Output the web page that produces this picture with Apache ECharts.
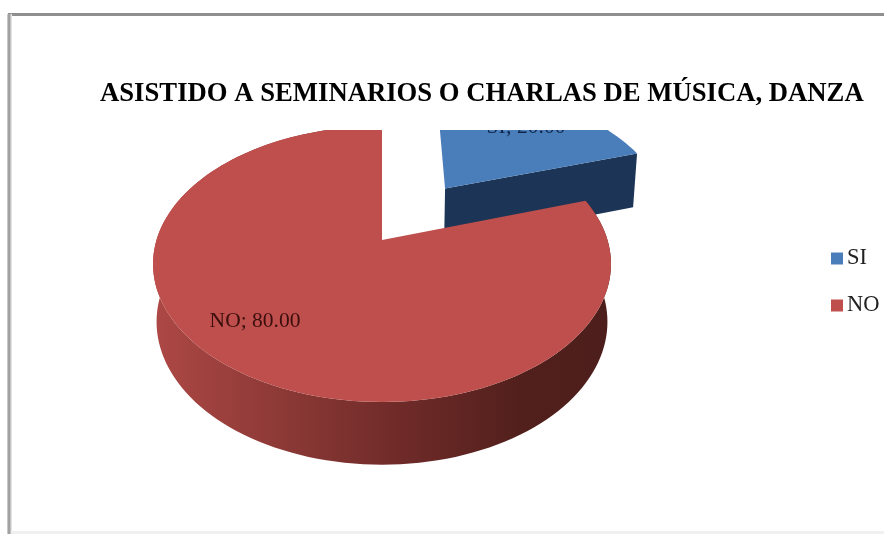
<!DOCTYPE html>
<html>
<head>
<meta charset="utf-8">
<script src="https://cdn.jsdelivr.net/npm/echarts@6/dist/echarts.min.js"></script>
<style>html,body{margin:0;padding:0;background:#fff}#c{width:884px;height:534px}</style>
</head>
<body>
<div id="c"></div>
<script>
var titleText = 'ASISTIDO A SEMINARIOS O CHARLAS DE MÚSICA, DANZA';
var categories = ['SI', 'NO'];
var values = [20, 80];
var FONT = '"Liberation Serif","Times New Roman",serif';

// Projection of the pie plane (perspective view of a tilted disc)
var P = 0.174, TOP = {x0: 382, y0: 240, a: 133.8, b: 225.5}, BOT = {x0: 382, y0: 297, a: 138.5, b: 222};
var EXPLODE = 0.51;
function project(pl, u, v) {
  var w = 1 + P * v;
  return [pl.x0 + pl.b * u / w, pl.y0 - pl.a * v / w];
}
function ringPoints(pl, ou, ov, r, from, to) {
  var pts = [], n = Math.max(2, Math.round((to - from) / 2));
  for (var i = 0; i <= n; i++) {
    var t = (from + (to - from) * i / n) * Math.PI / 180;
    pts.push(project(pl, ou + r * Math.sin(t), ov + r * Math.cos(t)));
  }
  return pts;
}
var total = values.reduce(function (a, b) { return a + b; }, 0);
var styles = {
  SI: {
    top: '#4a7ebb',
    side: '#1c3557',
    label: '#0f2448',
    labelPos: [526, 127],
    explode: EXPLODE,
    radius: 1.025
  },
  NO: {
    top: '#be4f4c',
    side: new echarts.graphic.LinearGradient(153, 0, 611, 0, [
      {offset: 0, color: '#ad4845'},
      {offset: 0.3, color: '#8a3835'},
      {offset: 0.55, color: '#6e2a28'},
      {offset: 0.8, color: '#52201c'},
      {offset: 1, color: '#4c1e1b'}
    ], true),
    label: '#3a0f0e',
    labelPos: [255, 321],
    explode: 0,
    radius: 1
  }
};
function sliceRender(idx) {
  return function (params, api) {
    var name = categories[idx], st = styles[name];
    var start = 0;
    for (var i = 0; i < idx; i++) start += values[i] / total * 360;
    var end = start + values[idx] / total * 360;
    var mid = (start + end) / 2 * Math.PI / 180;
    var ou = st.explode * Math.sin(mid), ov = st.explode * Math.cos(mid);
    var topArc = ringPoints(TOP, ou, ov, st.radius, start, end);
    var botArc = ringPoints(BOT, ou, ov, st.radius, start, end);
    var apexT = project(TOP, ou, ov), apexB = project(BOT, ou, ov);
    var children = [];
    if (name === 'SI') {
      // front cut face of the exploded slice
      children.push({type: 'polygon',
        shape: {points: [apexT, topArc[topArc.length - 1], botArc[botArc.length - 1], apexB]},
        style: {fill: st.side}});
    } else {
      // outer wall
      children.push({type: 'polygon', shape: {points: topArc.concat(botArc.slice().reverse())},
        style: {fill: st.side}});
    }
    // top face
    children.push({type: 'polygon', shape: {points: [apexT].concat(topArc)},
      style: {fill: st.top}});
    // data label
    children.push({type: 'text', x: st.labelPos[0], y: st.labelPos[1],
      style: {text: name + '; ' + api.value(0).toFixed(2), font: '21.5px ' + FONT,
        fill: st.label, align: 'center', verticalAlign: 'middle'}});
    return {type: 'group', children: children};
  };
}
var chart = echarts.init(document.getElementById('c'), null, {renderer: 'canvas'});
chart.setOption({
  animation: false,
  backgroundColor: '#ffffff',
  title: {
    text: titleText, left: 100, top: 81, z: 20, padding: 0,
    textStyle: {fontFamily: FONT, fontWeight: 'bold', fontSize: 26.7, color: '#000'}
  },
  legend: {
    orient: 'vertical', left: 831, top: 247, itemWidth: 12, itemHeight: 12, itemGap: 24,
    icon: 'rect', data: categories, selectedMode: false, z: 20,
    padding: 0,
    textStyle: {fontFamily: FONT, fontSize: 22.5, color: '#222', padding: [0, 0, 0, -1], lineHeight: 23}
  },
  series: categories.map(function (name, i) {
    return {
      type: 'custom', name: name, coordinateSystem: 'none', z: i + 2,
      itemStyle: {color: styles[name].top},
      silent: true, clip: false,
      data: [[values[i]]],
      renderItem: sliceRender(i)
    };
  }),
  graphic: [
    {type: 'rect', z: 10, shape: {x: 11, y: 17, width: 873, height: 113}, style: {fill: '#fff'}, silent: true},
    {type: 'rect', z: 11, shape: {x: 8, y: 13, width: 876, height: 3}, style: {fill: '#8f8f8f'}, silent: true},
    {type: 'rect', z: 11, shape: {x: 7, y: 14, width: 5, height: 520},
      style: {fill: new echarts.graphic.LinearGradient(0, 0, 1, 0, [
        {offset: 0, color: '#dcdcdc'}, {offset: 0.4, color: '#8f8f8f'}, {offset: 1, color: '#f4f4f4'}])}, silent: true},
    {type: 'rect', z: 11, shape: {x: 11, y: 531, width: 873, height: 3}, style: {fill: '#f0f0f0'}, silent: true}
  ]
});
</script>
</body>
</html>
